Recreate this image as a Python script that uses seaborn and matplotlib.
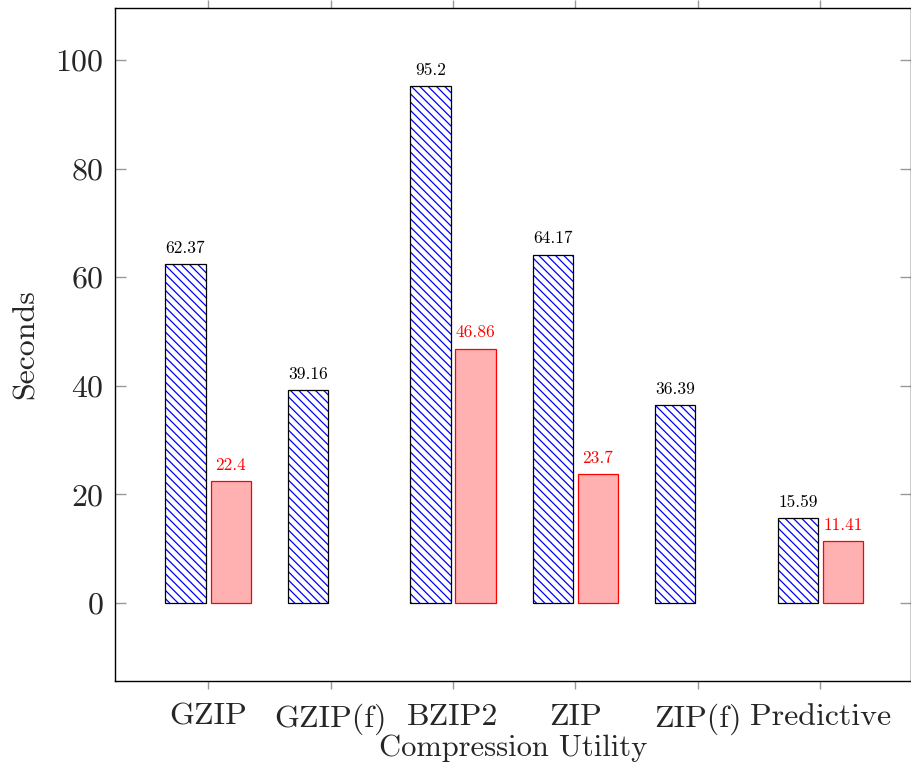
import numpy as np
import pandas as pd
import matplotlib
matplotlib.use('Agg')
import matplotlib.pyplot as plt
from matplotlib.patches import Rectangle
import seaborn as sns

# dados
utilities = ['GZIP', 'GZIP(f)', 'BZIP2', 'ZIP', 'ZIP(f)', 'Predictive']
original = [62.37, 39.16, 95.2, 64.17, 36.39, 15.59]
improved = [22.4, np.nan, 46.86, 23.7, np.nan, 11.41]
series = ['Original', 'Improved']
y_ticks = [0, 20, 40, 60, 80, 100]


def desenhar():
    sns.set_style('white')
    plt.rcParams['font.family'] = ['cmr10', 'DejaVu Serif']
    plt.rcParams['axes.formatter.use_mathtext'] = True
    plt.rcParams['mathtext.fontset'] = 'cm'
    plt.rcParams['hatch.linewidth'] = 0.9

    df = pd.DataFrame({
        'utility': utilities * 2,
        'series': [series[0]] * len(utilities) + [series[1]] * len(utilities),
        'seconds': original + improved,
    }).dropna()

    fig = plt.figure(figsize=(9.12, 7.63), dpi=100)
    ax = fig.add_axes([115 / 912, 1 - 681 / 763, 796 / 912, 673 / 763])

    sns.barplot(data=df, x='utility', y='seconds', hue='series',
                order=utilities, hue_order=series,
                palette={series[0]: 'white', series[1]: '#ffb0b0'},
                saturation=1, width=0.736, gap=0.11, legend=False, ax=ax)

    # barras azuis hachuradas com contorno preto
    for p in ax.containers[0]:
        p.set_facecolor('white')
        p.set_hatch('\\\\\\\\')
        p.set_edgecolor('blue')
        p.set_linewidth(0)
        ax.add_patch(Rectangle(p.get_xy(), p.get_width(), p.get_height(),
                               fill=False, ec='black', lw=0.9, zorder=p.get_zorder() + 0.1))
    for p in ax.containers[1]:
        p.set_edgecolor('red')
        p.set_linewidth(0.9)

    ax.bar_label(ax.containers[0], fmt='%g', padding=6, fontsize=12.5, color='black')
    ax.bar_label(ax.containers[1], fmt='%g', padding=6, fontsize=12.5, color='red')

    ax.set_ylim(-14.36, 109.58)
    ax.set_xlim(-0.76, 5.74)
    ax.set_yticks(y_ticks)
    ax.set_xlabel('Compression Utility', fontsize=22, labelpad=0)
    ax.set_ylabel('Seconds', fontsize=23, labelpad=11)

    for s in ax.spines.values():
        s.set_visible(True)
        s.set_color('black')
        s.set_linewidth(1.0)

    ax.tick_params(axis='y', direction='in', left=True, right=True, length=8,
                   color='#999999', width=1.0, labelsize=23, pad=8)
    ax.tick_params(axis='x', direction='out', bottom=True, top=True, length=6,
                   color='#999999', width=1.0, labelsize=23, pad=10)

    fig.savefig('out.png', dpi=100)


if __name__ == '__main__':
    desenhar()
